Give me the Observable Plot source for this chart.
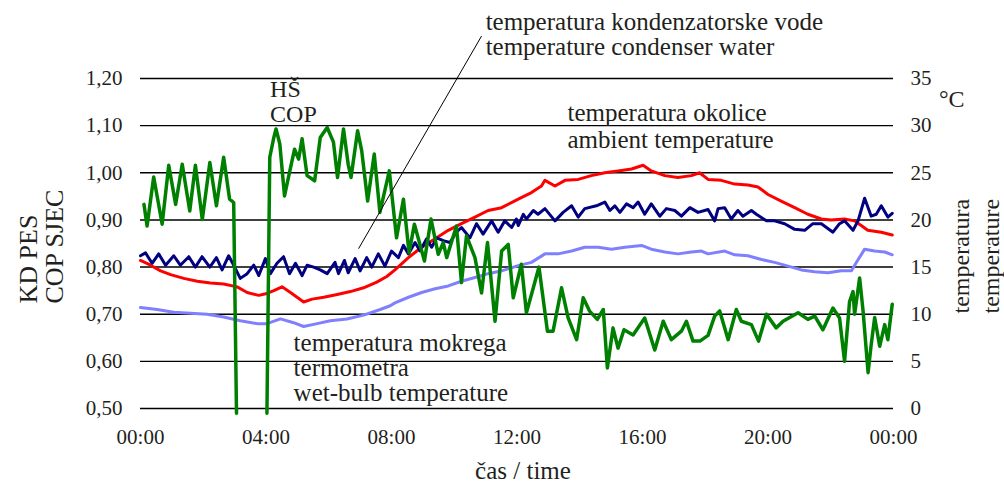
<!DOCTYPE html>
<html>
<head>
<meta charset="utf-8">
<script src="https://cdn.jsdelivr.net/npm/d3@7"></script>
<script src="https://cdn.jsdelivr.net/npm/@observablehq/plot@0.6"></script>
<style>
  html, body { margin: 0; padding: 0; background: #fff; }
  #chart svg { display: block; }
  #chart svg, #chart svg text, #chart svg tspan { font-family: "Liberation Serif", "Times New Roman", Times, serif !important; }
</style>
</head>
<body>
<div id="chart"></div>
<script>
// ---- Data (hours since 00:00) ----
// Heat pump COP (left axis); null = off-scale gap
const copHours = [0.11,0.21,0.42,0.69,0.90,1.12,1.33,1.57,1.75,1.97,2.21,2.42,2.65,2.84,2.97,3.06,3.50,4.03,4.12,4.25,4.32,4.44,4.59,4.76,4.91,5.04,5.15,5.31,5.55,5.73,5.95,6.15,6.28,6.47,6.62,6.71,6.92,7.05,7.24,7.45,7.63,7.93,8.16,8.38,8.56,8.73,9.05,9.26,9.49,9.65,9.76,10.07,10.23,10.39,10.66,10.87,11.06,11.30,11.51,11.72,11.88,12.14,12.30,12.52,12.70,12.97,13.15,13.42,13.63,13.90,14.11,14.32,14.56,14.75,14.88,15.06,15.22,15.41,15.70,16.07,16.39,16.66,16.92,17.24,17.40,17.61,17.83,18.09,18.30,18.46,18.73,18.99,19.15,19.47,19.70,19.95,20.26,20.48,20.96,21.27,21.49,21.75,22.07,22.28,22.44,22.60,22.71,22.76,22.92,23.03,23.19,23.29,23.40,23.56,23.72,23.82,23.96];
const copValues = [0.933,0.887,0.991,0.891,1.016,0.933,1.018,0.919,1.016,0.901,1.022,0.930,1.033,0.944,0.937,0.49,null,0.49,1.033,1.075,1.093,1.061,0.951,1.004,1.050,1.029,1.072,0.994,0.983,1.075,1.096,1.065,0.990,1.093,1.018,0.990,1.089,1.047,0.940,1.040,0.916,1.004,0.862,0.944,0.830,0.891,0.813,0.902,0.827,0.852,0.820,0.887,0.767,0.866,0.820,0.745,0.852,0.685,0.834,0.848,0.735,0.806,0.703,0.756,0.800,0.664,0.664,0.756,0.692,0.646,0.735,0.706,0.689,0.710,0.586,0.671,0.628,0.667,0.656,0.692,0.624,0.685,0.646,0.664,0.685,0.643,0.643,0.655,0.696,0.707,0.646,0.710,0.685,0.678,0.643,0.700,0.671,0.685,0.703,0.689,0.696,0.667,0.713,0.692,0.600,0.727,0.748,0.700,0.777,0.707,0.576,0.636,0.693,0.632,0.678,0.646,0.721];

// Condenser water temperature (right axis, °C)
const condHours = [0.00,0.16,0.37,0.58,0.80,1.06,1.27,1.54,1.75,1.96,2.21,2.42,2.60,2.81,2.97,3.18,3.40,3.61,3.77,3.98,4.14,4.35,4.56,4.75,4.94,5.15,5.31,5.52,5.73,5.95,6.20,6.31,6.50,6.62,6.84,7.00,7.21,7.37,7.58,7.79,8.00,8.22,8.38,8.54,8.75,8.91,9.12,9.28,9.44,9.65,9.86,10.07,10.23,10.50,10.71,10.92,11.19,11.40,11.61,11.83,11.98,12.04,12.20,12.30,12.52,12.67,12.89,13.21,13.47,13.74,13.95,14.16,14.53,14.80,14.96,15.12,15.28,15.49,15.70,15.86,16.07,16.28,16.55,16.76,17.03,17.24,17.51,17.77,18.09,18.30,18.41,18.62,18.83,19.04,19.20,19.47,19.63,19.95,20.21,20.53,20.85,21.17,21.43,21.70,22.07,22.28,22.44,22.71,22.87,23.08,23.29,23.45,23.61,23.82,23.96];
const condTemps = [16.2,16.5,15.4,16.4,15.2,16.2,15.2,16.1,15.0,16.1,15.0,16.0,14.7,16.2,15.2,13.8,14.3,15.2,14.1,15.9,14.3,15.4,16.1,14.3,15.4,14.1,15.2,15.0,14.7,14.3,15.5,14.3,15.7,14.4,15.9,14.6,16.0,15.0,16.4,15.1,16.7,16.0,17.3,16.4,17.6,16.7,18.0,17.1,18.1,17.8,17.6,18.7,19.2,18.1,19.6,18.5,19.9,18.7,19.9,19.2,20.1,19.4,20.6,20.1,21.0,20.6,21.2,19.9,20.8,21.5,20.3,21.2,21.5,21.9,21.0,21.5,20.8,21.7,21.3,21.9,20.6,21.7,20.4,21.2,21.0,20.4,21.3,20.8,21.1,19.9,21.2,21.3,20.1,21.0,20.4,21.0,20.6,19.9,19.9,19.6,19.0,18.9,19.6,19.6,18.7,19.6,19.9,18.9,19.9,22.3,20.4,20.6,21.5,20.3,20.7];

// Ambient temperature (right axis, °C)
const ambHours = [0.00,0.32,0.64,0.96,1.38,1.81,2.23,2.65,3.08,3.40,3.77,4.03,4.25,4.51,4.78,4.99,5.20,5.47,5.84,6.27,6.69,7.11,7.53,7.85,8.11,8.54,8.96,9.39,9.81,10.23,10.66,11.08,11.51,12.04,12.46,12.78,12.89,13.21,13.53,13.95,14.37,14.80,15.22,15.65,16.02,16.28,16.71,17.13,17.56,17.82,18.09,18.51,18.94,19.36,19.68,20.00,20.42,20.85,21.27,21.70,22.01,22.44,22.76,22.97,23.18,23.61,23.96];
const ambTemps = [15.7,15.2,14.6,14.2,13.8,13.5,13.3,13.2,12.9,12.3,12.0,12.2,12.5,12.9,12.3,11.8,11.3,11.6,11.8,12.1,12.4,12.8,13.4,14.0,14.7,16.0,17.1,18.0,18.9,19.6,20.3,21.0,21.3,22.2,22.9,23.6,24.2,23.6,24.2,24.3,24.7,25.0,25.2,25.4,25.8,25.2,24.7,24.5,24.7,25.0,24.3,24.2,23.8,23.7,23.5,22.7,22.0,21.3,20.6,20.1,20.0,20.1,19.9,19.4,18.9,18.7,18.4];

// Wet-bulb temperature (right axis, °C)
const wetHours = [0.00,0.53,1.06,1.59,2.12,2.65,3.18,3.72,4.03,4.46,4.88,5.20,5.63,6.05,6.58,7.11,7.64,7.96,8.11,8.54,8.96,9.39,9.81,10.23,10.66,11.08,11.51,12.04,12.46,12.89,13.31,13.74,14.16,14.59,15.01,15.44,15.97,16.28,16.71,17.13,17.56,17.88,18.09,18.62,18.94,19.36,19.79,20.21,20.64,21.06,21.49,21.91,22.34,22.66,22.82,23.08,23.40,23.72,23.96];
const wetTemps = [10.7,10.5,10.2,10.1,10.0,9.7,9.3,9.0,9.0,9.5,9.1,8.7,9.0,9.3,9.5,9.9,10.5,10.9,11.2,11.8,12.3,12.7,13.0,13.5,13.9,14.3,14.6,15.15,15.5,16.4,16.4,16.7,17.1,17.1,16.9,17.1,17.3,16.9,16.6,16.4,16.6,16.7,16.4,16.7,16.3,16.2,15.8,15.5,15.1,14.7,14.5,14.4,14.6,14.6,15.5,16.9,16.7,16.6,16.3];

// Axes
const copTicks = [0.5,0.6,0.7,0.8,0.9,1.0,1.1,1.2];
const tempTicks = [0,5,10,15,20,25,30,35];
const timeTicks = [0,4,8,12,16,20,24];
const timeTickLabels = ["00:00","04:00","08:00","12:00","16:00","20:00","00:00"];

// Annotation texts and anchors (hour, COP-axis value of the last line's baseline)
const labelCop = {h: 4.13, v: 1.107, text: "HŠ\nCOP"};
const labelCond = {h: 11.0, v: 1.249, text: "temperatura kondenzatorske vode\ntemperature condenser water"};
const labelAmb = {h: 13.61, v: 1.052, text: "temperatura okolice\nambient temperature"};
const labelWet = {h: 4.88, v: 0.516, text: "temperatura mokrega\ntermometra\nwet-bulb temperature"};
const labelUnit = {h: 25.45, v: 1.139, text: "°C"};
const leader = [{h1: 10.87, v1: 1.29, h2: 6.95, v2: 0.839}];

// temperature (°C) -> left-axis (COP) units: 0 °C = 0.50, 35 °C = 1.20
const t2c = t => 0.5 + t / 50;

const mk = (hs, vs) => hs.map((h, i) => ({h, v: vs[i] == null ? NaN : vs[i]}));
const cop = mk(copHours, copValues);
const cond = mk(condHours, condTemps.map(t2c));
const amb = mk(ambHours, ambTemps.map(t2c));
const wet = mk(wetHours, wetTemps.map(t2c));

const FONT = "Liberation Serif, Times New Roman, serif";
const TXT = "#231f20";
const note = (d, fontSize, lineHeight) => Plot.text([d], {x: "h", y: "v", text: "text",
  textAnchor: "start", lineAnchor: "bottom", fontSize, lineHeight, fill: TXT, fontFamily: FONT});

const chart = Plot.plot({
  width: 1004,
  height: 486,
  marginLeft: 140,
  marginRight: 111,
  marginTop: 78,
  marginBottom: 78,
  style: {fontFamily: FONT, color: TXT, background: "#fff", overflow: "visible"},
  x: {domain: [0, 24]},
  y: {domain: [0.5, 1.2]},
  marks: [
    Plot.ruleY(copTicks, {stroke: "#000", strokeWidth: 1.4}),
    Plot.axisY({anchor: "left", ticks: copTicks, tickSize: 0, tickPadding: 18, fontSize: 21,
      tickFormat: d => d.toFixed(2).replace(".", ","), label: null}),
    Plot.axisY({anchor: "right", ticks: tempTicks.map(t2c), tickSize: 0, tickPadding: 17, fontSize: 21,
      tickFormat: d => String(Math.round((d - 0.5) * 50)), label: null}),
    Plot.axisX({ticks: timeTicks, tickSize: 0, tickPadding: 21, fontSize: 21,
      tickFormat: (d) => timeTickLabels[timeTicks.indexOf(d)], label: null}),
    Plot.line(wet, {x: "h", y: "v", stroke: "#8080ff", strokeWidth: 3}),
    Plot.line(amb, {x: "h", y: "v", stroke: "#ff0000", strokeWidth: 3}),
    Plot.line(cond, {x: "h", y: "v", stroke: "#000080", strokeWidth: 3}),
    Plot.line(cop, {x: "h", y: "v", stroke: "#008000", strokeWidth: 3.5}),
    Plot.link(leader, {x1: "h1", y1: "v1", x2: "h2", y2: "v2", stroke: "#000", strokeWidth: 1}),
    note(labelCop, 24, 1.04),
    note(labelCond, 25, 1.0),
    note(labelAmb, 25, 1.1),
    note(labelWet, 25, 1.0),
    note(labelUnit, 24, 1),
    Plot.text(["KD PES\nCOP SJEC"], {frameAnchor: "left", dx: -78, dy: 60, rotate: -90,
      textAnchor: "start", lineAnchor: "bottom", fontSize: 26, lineHeight: 1.0, fill: TXT}),
    Plot.text(["temperatura\ntemperature"], {frameAnchor: "right", dx: 105, dy: 70, rotate: -90,
      textAnchor: "start", lineAnchor: "bottom", fontSize: 24, lineHeight: 1.25, fill: TXT}),
    Plot.text(["čas / time"], {frameAnchor: "bottom", dx: 6, dy: 70, lineAnchor: "bottom",
      fontSize: 25, fill: TXT})
  ]
});
document.getElementById("chart").appendChild(chart);
</script>
</body>
</html>
